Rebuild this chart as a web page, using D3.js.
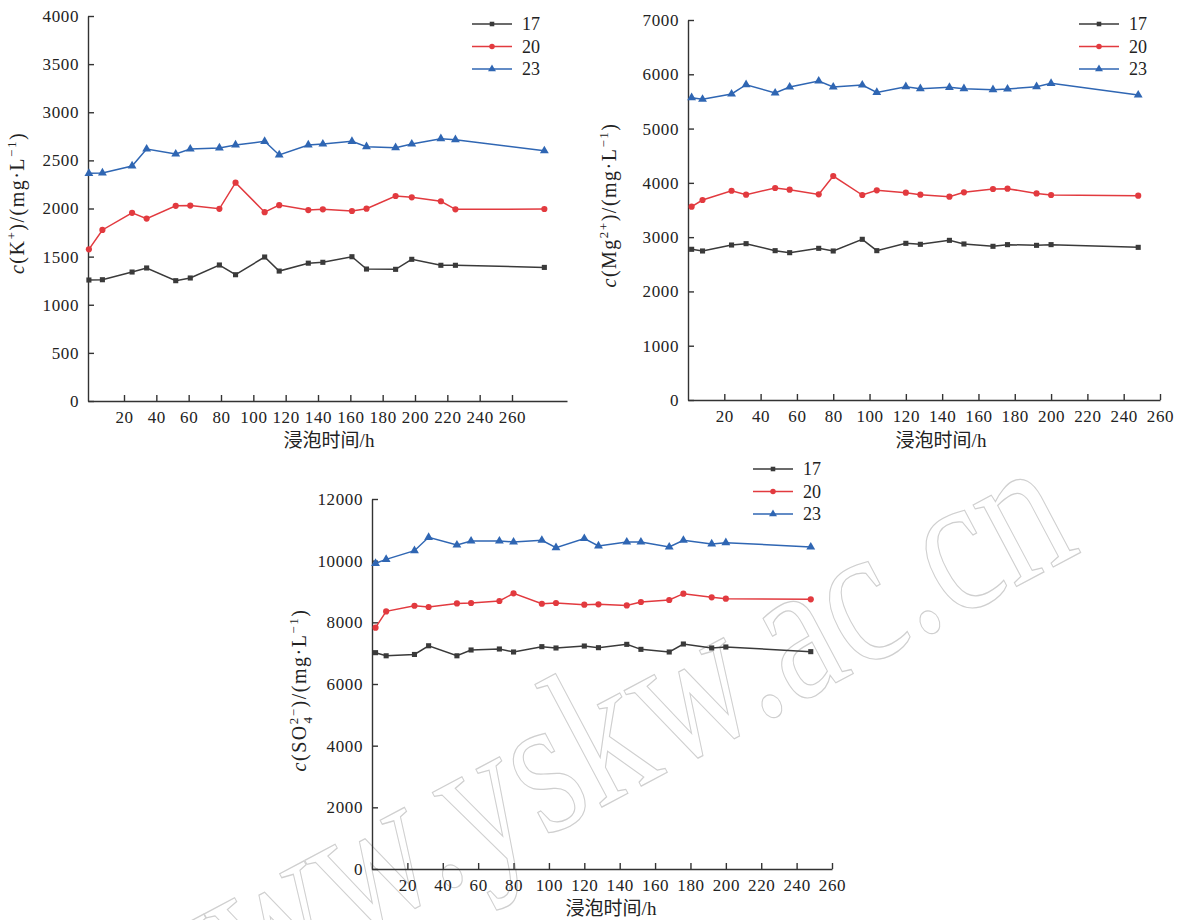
<!DOCTYPE html>
<html lang="zh">
<head>
<meta charset="utf-8">
<title>浸泡时间与离子浓度</title>
<script src="https://cdn.jsdelivr.net/npm/d3@7"></script>
<style>
  body { margin: 0; background: #fff; }
  text { font-family: "Liberation Serif", "DejaVu Serif", "Noto Sans CJK SC", serif; fill: #222; }
  .axis path, .axis line { stroke: #333; stroke-width: 1.4; }
  .axis text { font-size: 17px; letter-spacing: 0.6px; fill: #222; }
  .watermark { fill: none; stroke: #cfcfcf; stroke-width: 1.1; font-size: 175px; }
</style>
</head>
<body>
<script>
// legend names and colours
var series = ["17", "20", "23"];
var colors = ["#3a3a3a", "#e23a3f", "#2f66b3"];

// soaking time (h) as read from the K+ panel's axis
var hoursK = [0.5, 8, 25, 34, 52, 61, 79, 89, 107, 116, 134, 143, 161, 170, 188, 198, 216, 225, 280];
// soaking time (h) for the Mg2+ and SO4 2- panels
var hours = [2, 8, 24, 32, 48, 56, 72, 80, 96, 104, 120, 128, 144, 152, 168, 176, 192, 200, 248];

var k17 = [1257, 1260, 1340, 1382, 1250, 1278, 1413, 1312, 1496, 1350, 1432, 1441, 1499, 1371, 1368, 1472, 1410, 1410, 1388];
var k20 = [1576, 1777, 1955, 1895, 2028, 2030, 1997, 2268, 1962, 2035, 1984, 1991, 1974, 1998, 2130, 2116, 2075, 1991, 1995];
var k23 = [2365, 2370, 2442, 2618, 2566, 2618, 2629, 2660, 2698, 2556, 2660, 2670, 2698, 2642, 2632, 2670, 2725, 2715, 2600];

var mg17 = [2776, 2745, 2855, 2880, 2751, 2714, 2794, 2745, 2960, 2751, 2886, 2868, 2941, 2874, 2831, 2862, 2849, 2862, 2812];
var mg20 = [3561, 3684, 3855, 3782, 3905, 3874, 3788, 4126, 3776, 3862, 3819, 3782, 3745, 3825, 3887, 3893, 3806, 3776, 3764];
var mg23 = [5569, 5539, 5637, 5808, 5655, 5765, 5876, 5765, 5802, 5667, 5771, 5734, 5759, 5734, 5716, 5728, 5771, 5833, 5618];

var so17 = [7016, 6915, 6958, 7240, 6915, 7103, 7135, 7038, 7211, 7168, 7232, 7178, 7286, 7124, 7038, 7297, 7168, 7200, 7049];
var so20 = [7827, 8355, 8537, 8497, 8614, 8627, 8692, 8941, 8603, 8627, 8572, 8583, 8548, 8659, 8724, 8930, 8810, 8767, 8746];
var so23 = [9914, 10043, 10324, 10757, 10508, 10638, 10638, 10605, 10660, 10422, 10719, 10476, 10605, 10605, 10443, 10660, 10541, 10584, 10443];

var xTicks = d3.range(20, 261, 20);
var serif = "'Liberation Serif', 'DejaVu Serif', serif";

var svg = d3.select("body").append("svg")
  .attr("width", 1180)
  .attr("height", 920);

// faint outlined watermark behind the charts
svg.append("text")
  .attr("class", "watermark")
  .attr("text-anchor", "middle")
  .attr("transform", "translate(615,800) rotate(-28) scale(0.9,1.15)")
  .text("www.yskw.ac.cn");

var panels = [
  { hours: hoursK, values: [k17, k20, k23], xDomain: [0, 20, 260, 294], xRange: [88, 124, 512, 567],
    yMax: 4000, yStep: 500, yRange: [401, 16], legend: [472, 24], yLab: [24, 203], xLab: [329, 447], ion: "K" },
  { hours: hours, values: [mg17, mg20, mg23], xDomain: [0, 260], xRange: [688, 1160],
    yMax: 7000, yStep: 1000, yRange: [400, 20], legend: [1079, 24], yLab: [616, 205], xLab: [941, 447], ion: "Mg" },
  { hours: hours, values: [so17, so20, so23], xDomain: [0, 260], xRange: [372, 832],
    yMax: 12000, yStep: 2000, yRange: [869, 499], legend: [753, 469], yLab: [306, 690], xLab: [611, 915], ion: "SO4" }
];

var symbols = [d3.symbolSquare, d3.symbolCircle, d3.symbolTriangle];
var symSizes = [26, 30, 34];

panels.forEach(function(p) {
  var x = d3.scaleLinear().domain(p.xDomain).range(p.xRange);
  var y = d3.scaleLinear().domain([0, p.yMax]).range(p.yRange);

  svg.append("g")
    .attr("class", "axis")
    .attr("transform", "translate(0," + p.yRange[0] + ")")
    .call(d3.axisBottom(x).tickValues(xTicks).tickFormat(d3.format("d"))
      .tickSizeInner(-6).tickSizeOuter(0).tickPadding(10))
    .attr("font-family", serif);

  svg.append("g")
    .attr("class", "axis")
    .attr("transform", "translate(" + p.xRange[0] + ",0)")
    .call(d3.axisLeft(y).tickValues(d3.range(0, p.yMax + 1, p.yStep)).tickFormat(d3.format("d"))
      .tickSizeInner(-6).tickSizeOuter(0).tickPadding(9))
    .attr("font-family", serif);

  var line = d3.line()
    .x(function(d, i) { return x(p.hours[i]); })
    .y(function(d) { return y(d); });

  p.values.forEach(function(vals, s) {
    svg.append("path")
      .datum(vals)
      .attr("fill", "none")
      .attr("stroke", colors[s])
      .attr("stroke-width", 1.5)
      .attr("d", line);

    svg.selectAll(null)
      .data(vals)
      .enter().append("path")
      .attr("d", d3.symbol().type(symbols[s]).size(symSizes[s]))
      .attr("fill", colors[s])
      .attr("transform", function(d, i) { return "translate(" + x(p.hours[i]) + "," + y(d) + ")"; });
  });

  // legend
  var lg = svg.append("g").attr("transform", "translate(" + p.legend[0] + "," + p.legend[1] + ")");
  series.forEach(function(name, s) {
    var row = lg.append("g").attr("transform", "translate(0," + s * 22.5 + ")");
    row.append("line").attr("x1", 0).attr("x2", 40).attr("stroke", colors[s]).attr("stroke-width", 1.5);
    row.append("path").attr("d", d3.symbol().type(symbols[s]).size(symSizes[s] * 0.8)).attr("fill", colors[s])
      .attr("transform", "translate(20,0)");
    row.append("text").attr("x", 50).attr("dy", "0.35em").style("font-size", "18px").text(name);
  });

  // x label
  svg.append("text")
    .attr("x", p.xLab[0]).attr("y", p.xLab[1])
    .attr("text-anchor", "middle")
    .style("font-size", "19px")
    .text("浸泡时间/h");

  // y label
  var yl = svg.append("text")
    .attr("text-anchor", "middle")
    .attr("transform", "translate(" + p.yLab[0] + "," + p.yLab[1] + ") rotate(-90)")
    .style("font-size", "20px")
    .style("letter-spacing", "1.5px");
  yl.append("tspan").style("font-style", "italic").text("c");
  if (p.ion === "K") {
    yl.append("tspan").text("(K");
    yl.append("tspan").attr("dy", -8).style("font-size", "13px").text("+");
    yl.append("tspan").attr("dy", 8).text(")/");
  } else if (p.ion === "Mg") {
    yl.append("tspan").text("(Mg");
    yl.append("tspan").attr("dy", -8).style("font-size", "13px").text("2+");
    yl.append("tspan").attr("dy", 8).text(")/");
  } else {
    yl.append("tspan").text("(SO");
    yl.append("tspan").attr("dy", -8).style("font-size", "13px").text("2−");
    yl.append("tspan").attr("dx", -16).attr("dy", 14).style("font-size", "13px").text("4");
    yl.append("tspan").attr("dx", 8).attr("dy", -6).text(")/");
  }
  yl.append("tspan").text("(mg·L");
  yl.append("tspan").attr("dy", -8).style("font-size", "13px").text("−1");
  yl.append("tspan").attr("dy", 8).text(")");
});
</script>
</body>
</html>
